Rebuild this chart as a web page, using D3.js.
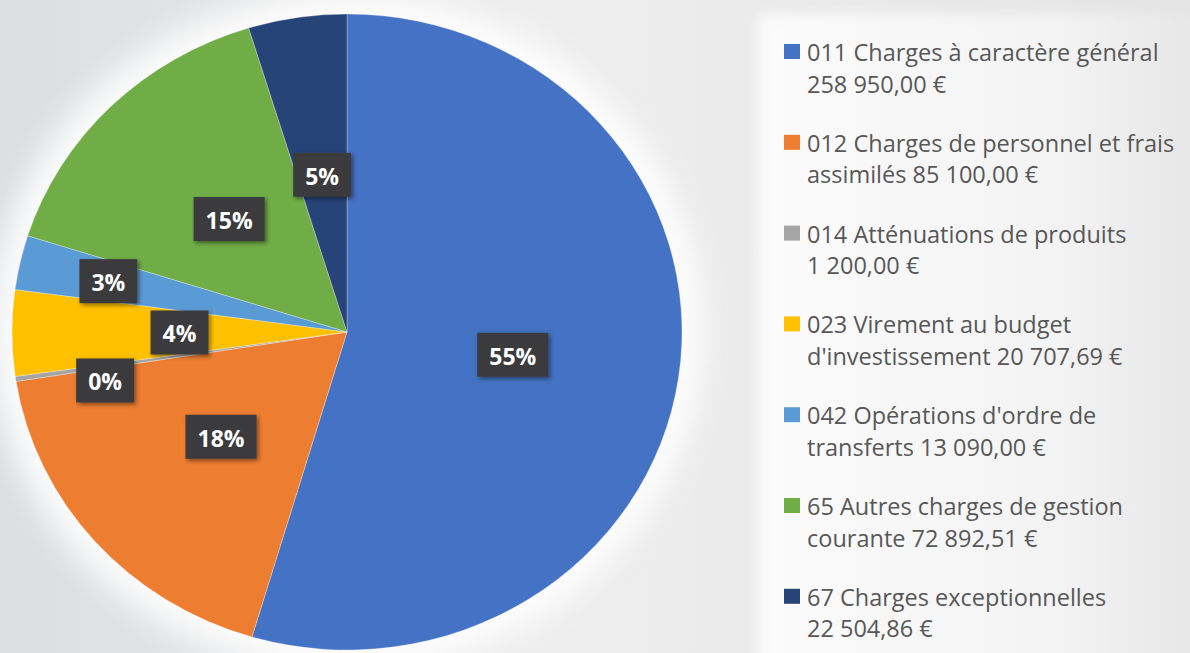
<!DOCTYPE html>
<html lang="fr">
<head>
    <meta charset="UTF-8">
    <title>Dépenses de fonctionnement</title>
    <script src="https://d3js.org/d3.v7.min.js"></script>
    <style>
        html, body {
            margin: 0;
            padding: 0;
            background: #e6e6e6;
        }
        svg {
            display: block;
        }
    </style>
</head>
<body>
    <div id="chart"></div>
    <script>
        // Chart data
        const categories = [
            "011 Charges à caractère général",
            "012 Charges de personnel et frais assimilés",
            "014 Atténuations de produits",
            "023 Virement au budget d'investissement",
            "042 Opérations d'ordre de transferts",
            "65 Autres charges de gestion courante",
            "67 Charges exceptionnelles"
        ];
        const amounts = [258950.00, 85100.00, 1200.00, 20707.69, 13090.00, 72892.51, 22504.86];
        const colors = ["#4472C4", "#ED7D31", "#A5A5A5", "#FFC000", "#5B9BD5", "#70AD47", "#264478"];

        const width = 1190, height = 653;

        // Pie geometry (the picture is slightly stretched horizontally)
        const cx = 347, cy = 332;
        const R = 318;
        const sx = 335 / 318;

        const fr = d3.formatLocale({ decimal: ",", thousands: "\u00a0", grouping: [3], currency: ["", ""] });
        const fmtMoney = v => fr.format(",.2f")(v) + "\u00a0€";
        const fmtPct = d3.format(".0%");

        const svg = d3.select("#chart").append("svg")
            .attr("width", width)
            .attr("height", height);

        const defs = svg.append("defs");

        const bgGrad = defs.append("linearGradient").attr("id", "bg");
        bgGrad.append("stop").attr("offset", "0%").attr("stop-color", "#dcdee1");
        bgGrad.append("stop").attr("offset", "45%").attr("stop-color", "#eeeeee");
        bgGrad.append("stop").attr("offset", "100%").attr("stop-color", "#e4e4e4");

        const panelGrad = defs.append("linearGradient").attr("id", "panel");
        panelGrad.append("stop").attr("offset", "0%").attr("stop-color", "#fbfbfb");
        panelGrad.append("stop").attr("offset", "70%").attr("stop-color", "#f3f3f3");
        panelGrad.append("stop").attr("offset", "100%").attr("stop-color", "#e6e6e6");

        defs.append("filter").attr("id", "soft")
            .attr("x", "-20%").attr("y", "-20%").attr("width", "140%").attr("height", "140%")
            .append("feGaussianBlur").attr("stdDeviation", 14);

        defs.append("filter").attr("id", "panelBlur")
            .attr("x", "-10%").attr("y", "-10%").attr("width", "120%").attr("height", "120%")
            .append("feGaussianBlur").attr("stdDeviation", 6);

        const shadow = defs.append("filter").attr("id", "boxShadow")
            .attr("x", "-30%").attr("y", "-30%").attr("width", "160%").attr("height", "160%");
        shadow.append("feDropShadow")
            .attr("dx", 2).attr("dy", 2)
            .attr("stdDeviation", 2)
            .attr("flood-color", "#000")
            .attr("flood-opacity", 0.45);

        // Background
        svg.append("rect")
            .attr("width", width).attr("height", height)
            .attr("fill", "url(#bg)");

        svg.append("rect")
            .attr("x", 758).attr("y", 14)
            .attr("width", 440).attr("height", 660)
            .attr("fill", "url(#panel)")
            .attr("filter", "url(#panelBlur)");

        // white glow behind the pie
        svg.append("ellipse")
            .attr("cx", cx).attr("cy", cy)
            .attr("rx", R * sx + 22).attr("ry", R + 22)
            .attr("fill", "#ffffff")
            .attr("opacity", 0.85)
            .attr("filter", "url(#soft)");

        // Pie
        const pie = d3.pie().sort(null).value(d => d);
        const arcs = pie(amounts);
        const total = d3.sum(amounts);

        const arc = d3.arc().innerRadius(0).outerRadius(R);

        const pieG = svg.append("g")
            .attr("transform", `translate(${cx},${cy}) scale(${sx},1)`);

        pieG.selectAll("path.slice")
            .data(arcs)
            .enter().append("path")
            .attr("class", "slice")
            .attr("d", arc)
            .attr("fill", (d, i) => colors[i])
            .attr("stroke", "#ffffff")
            .attr("stroke-opacity", 0.35)
            .attr("stroke-width", 0.8);

        // Data labels: centroid for big slices, pushed outward for thin ones
        const boxH = 44;
        const labelPos = d => {
            const share = d.value / total;
            const r = share < 0.035 ? R * 0.73 : R * 0.5;
            const c = d3.arc().innerRadius(r).outerRadius(r).centroid(d);
            return [cx + c[0] * sx, cy + c[1]];
        };

        const labelData = arcs.map(d => {
            const p = labelPos(d);
            return { arc: d, x: p[0], y: p[1], small: d.value / total < 0.035, w: 0 };
        });

        const labels = svg.append("g").attr("class", "labels")
            .selectAll("g")
            .data(labelData)
            .enter().append("g");

        labels.append("rect").attr("class", "box");

        labels.append("text")
            .attr("text-anchor", "middle")
            .attr("dominant-baseline", "central")
            .attr("y", 1)
            .style("font-family", "'Open Sans', sans-serif")
            .style("font-weight", 700)
            .style("font-size", "23px")
            .style("fill", "#ffffff")
            .text(d => fmtPct(d.arc.value / total));

        labels.each(function(d) {
            d.w = d3.select(this).select("text").node().getComputedTextLength() + 24;
        });

        // push thin-slice labels away from neighbours they crowd
        labelData.forEach(a => {
            if (!a.small) return;
            labelData.forEach(b => {
                if (a === b) return;
                const xGap = Math.abs(a.x - b.x) - (a.w + b.w) / 2;
                const dy = a.y - b.y;
                if (xGap < 20 && Math.abs(dy) < boxH + 4 && !b.small) {
                    a.y = b.y + (dy >= 0 ? 1 : -1) * (boxH + 4);
                }
            });
        });

        labels.attr("transform", d => `translate(${d.x},${d.y})`);

        labels.select("rect")
            .attr("x", d => -d.w / 2).attr("y", -boxH / 2)
            .attr("width", d => d.w).attr("height", boxH)
            .attr("fill", "#3b3b3d")
            .attr("filter", "url(#boxShadow)");

        // Legend
        const legendX = 784, textX = 807;
        const legendTop = 52, blockStep = 90.8, lineStep = 31.5;
        const maxLine = 380;

        const legend = svg.append("g").attr("class", "legend");

        categories.forEach((name, i) => {
            const y0 = legendTop + i * blockStep;

            legend.append("rect")
                .attr("x", legendX).attr("y", y0 - 8)
                .attr("width", 16).attr("height", 15)
                .attr("fill", colors[i]);

            const text = legend.append("text")
                .attr("x", textX)
                .attr("y", y0)
                .attr("dominant-baseline", "central")
                .style("font-family", "'Open Sans', sans-serif")
                .style("font-size", "23.5px")
                .style("fill", "#575757");

            // simple word wrap
            const words = (name + " " + fmtMoney(amounts[i])).split(" ");
            let line = [];
            let lineNo = 0;
            let tspan = text.append("tspan").attr("x", textX).attr("y", y0);
            words.forEach(w => {
                line.push(w);
                tspan.text(line.join(" "));
                if (tspan.node().getComputedTextLength() > maxLine && line.length > 1) {
                    line.pop();
                    tspan.text(line.join(" "));
                    line = [w];
                    lineNo++;
                    tspan = text.append("tspan")
                        .attr("x", textX)
                        .attr("y", y0 + lineNo * lineStep)
                        .text(w);
                }
            });
        });
    </script>
</body>
</html>
